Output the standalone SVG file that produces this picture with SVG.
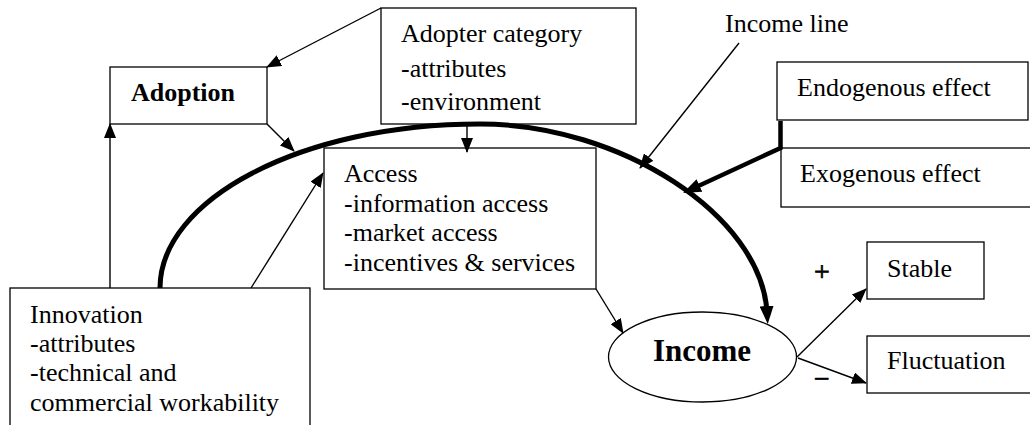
<svg xmlns="http://www.w3.org/2000/svg" width="1030" height="425" viewBox="0 0 1030 425">
<style>
.box{fill:#fff;stroke:#000;stroke-width:1.3}
.t{font-family:"Liberation Serif","Times New Roman",serif;font-size:26px;fill:#000}
.b{font-weight:bold}
.sign{stroke:#000;stroke-width:0.7}
.thin{fill:none;stroke:#000;stroke-width:1.4}
.thick{fill:none;stroke:#000;stroke-width:5}
</style>
<defs>
<marker id="a" markerUnits="userSpaceOnUse" markerWidth="15" markerHeight="12" viewBox="0 0 15 12" refX="14" refY="6" orient="auto"><path d="M0,0 L15,6 L0,12 z" fill="#000"/></marker>
<marker id="A" markerUnits="userSpaceOnUse" markerWidth="18" markerHeight="14" viewBox="0 0 18 14" refX="6" refY="7" orient="auto"><path d="M0,0 L18,7 L0,14 z" fill="#000"/></marker>
</defs>
<rect width="1030" height="425" fill="#fff"/>
<g id="adoption"><rect class="box" x="110" y="67" width="157" height="57"/><text class="t b" x="131" y="101">Adoption</text></g>
<g id="adopter-category"><rect class="box" x="381" y="8" width="255" height="116"/><text class="t" x="401" y="42">Adopter category</text><text class="t" x="401" y="77">-attributes</text><text class="t" x="401" y="110">-environment</text></g>
<g id="access"><rect class="box" x="324" y="148" width="272" height="141"/><text class="t" x="344" y="182">Access</text><text class="t" x="344" y="211.5">-information access</text><text class="t" x="344" y="241">-market access</text><text class="t" x="344" y="270.5">-incentives &amp; services</text></g>
<g id="innovation"><rect class="box" x="10" y="288" width="300" height="150"/><text class="t" x="30" y="323">Innovation</text><text class="t" x="30" y="352">-attributes</text><text class="t" x="30" y="381">-technical and</text><text class="t" x="30" y="410.5">commercial workability</text></g>
<g id="endogenous"><rect class="box" x="777" y="62" width="251" height="58"/><text class="t" x="797" y="96">Endogenous effect</text></g>
<g id="exogenous"><rect class="box" x="781" y="148" width="260" height="59"/><text class="t" x="800" y="182">Exogenous effect</text></g>
<g id="income"><ellipse class="box" cx="702.5" cy="357" rx="94" ry="45"/><text class="t b" x="702" y="361" style="font-size:31px" text-anchor="middle">Income</text></g>
<g id="stable"><rect class="box" x="867" y="242" width="117" height="57"/><text class="t" x="887" y="276.5">Stable</text></g>
<g id="fluctuation"><rect class="box" x="867" y="336" width="180" height="57"/><text class="t" x="887" y="369">Fluctuation</text></g>
<g id="income-line-label"><text class="t" x="725" y="32">Income line</text></g>
<g id="connectors">
<path class="thin" d="M381,8 L267,67" marker-end="url(#a)"/>
<path class="thin" d="M267,124 L294,151" marker-end="url(#a)"/>
<path class="thin" d="M110,288 L110,124" marker-end="url(#a)"/>
<path class="thin" d="M251,288 L323,173" marker-end="url(#a)"/>
<path class="thin" d="M467,124 L467,152" marker-end="url(#a)"/>
<path class="thin" d="M596,289 L623,333" marker-end="url(#a)"/>
<path class="thin" d="M739,43 L640,168" marker-end="url(#a)"/>
<path class="thin" d="M797,357 L866,289" marker-end="url(#a)"/>
<path class="thin" d="M798,358 L866,383" marker-end="url(#a)"/>
<path class="thick" d="M160,288 C160,200 300,124 480,124 C620,124 761,215 767,312" marker-end="url(#A)"/>
<path class="thick" style="stroke-width:4.5" d="M780.5,121 L780.5,148 L694,188" marker-end="url(#A)"/>
<text class="t sign" x="822" y="281" style="font-size:28px" text-anchor="middle">+</text>
<text class="t sign" x="822" y="388" style="font-size:28px" text-anchor="middle">−</text>
</g>
</svg>
